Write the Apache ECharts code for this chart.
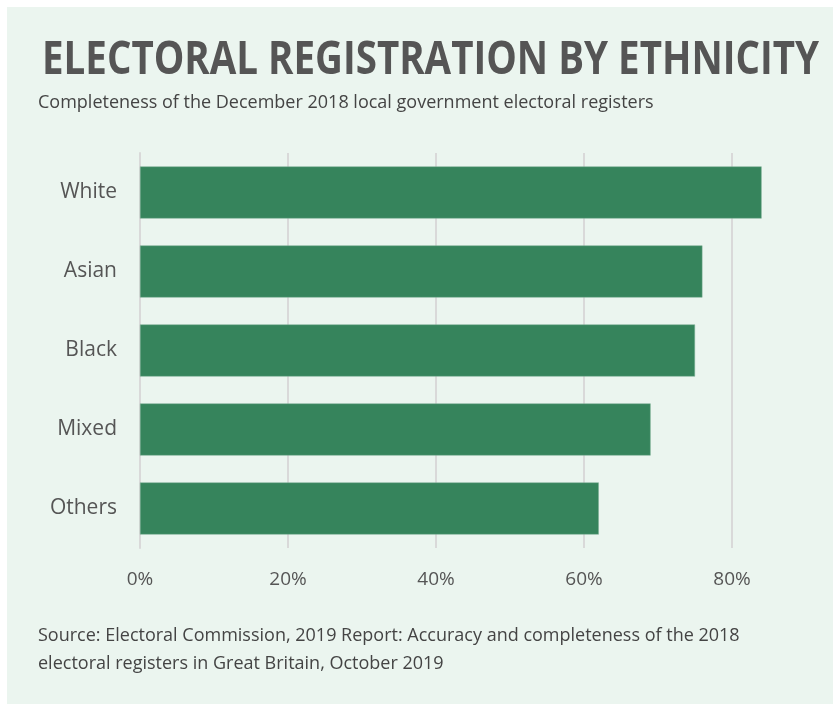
<!DOCTYPE html>
<html><head><meta charset="utf-8">
<script src="https://cdn.jsdelivr.net/npm/echarts@6/dist/echarts.min.js"></script>
<style>html,body{margin:0;padding:0;background:#fff}#c{width:833px;height:704px}</style>
</head><body><div id="c"></div>
<script>
const categories = ['White', 'Asian', 'Black', 'Mixed', 'Others'];
const completeness = [84, 76, 75, 69, 62];
const xTicks = [0, 20, 40, 60, 80];

const chart = echarts.init(document.getElementById('c'), null, {renderer: 'canvas'});
const font = '"Open Sans", sans-serif';
chart.setOption({
  backgroundColor: '#ffffff',
  animation: false,
  graphic: [
    {type: 'rect', left: 7, top: 7, shape: {width: 826, height: 697}, style: {fill: '#ebf5ef'}, z: -10},
    {type: 'text', x: 42, y: 38, scaleX: 0.837, style: {text: 'ELECTORAL REGISTRATION BY ETHNICITY', font: 'bold 46px "Open Sans", sans-serif', fill: '#555555'}},
    {type: 'text', left: 38, top: 94, style: {text: 'Completeness of the December 2018 local government electoral registers', font: '18px "Open Sans", sans-serif', fill: '#444444'}},
    {type: 'text', left: 38, top: 622, style: {text: 'Source: Electoral Commission, 2019 Report: Accuracy and completeness of the 2018\nelectoral registers in Great Britain, October 2019', font: '18px "Open Sans", sans-serif', fill: '#444444', lineHeight: 28}}
  ],
  grid: {left: 140, right: 27, top: 153, bottom: 156},
  xAxis: {
    type: 'value', min: 0, max: 90, interval: 20,
    axisLine: {show: false}, axisTick: {show: false},
    axisLabel: {formatter: v => xTicks.includes(v) ? v + '%' : '', showMaxLabel: false, color: '#555', fontFamily: font, fontSize: 19, margin: 22},
    splitLine: {show: true, showMaxLine: false, lineStyle: {color: '#d9d9d9', width: 2}}
  },
  yAxis: {
    type: 'category', data: categories, inverse: true,
    axisLine: {show: true, lineStyle: {color: '#d9d9d9', width: 2}},
    axisTick: {show: false},
    axisLabel: {color: '#555', fontFamily: font, fontSize: 21, margin: 23}
  },
  series: [{
    type: 'bar', data: completeness, barCategoryGap: '34%',
    itemStyle: {color: '#36845c', borderColor: '#7fb197', borderWidth: 0.5}
  }]
});
</script></body></html>
